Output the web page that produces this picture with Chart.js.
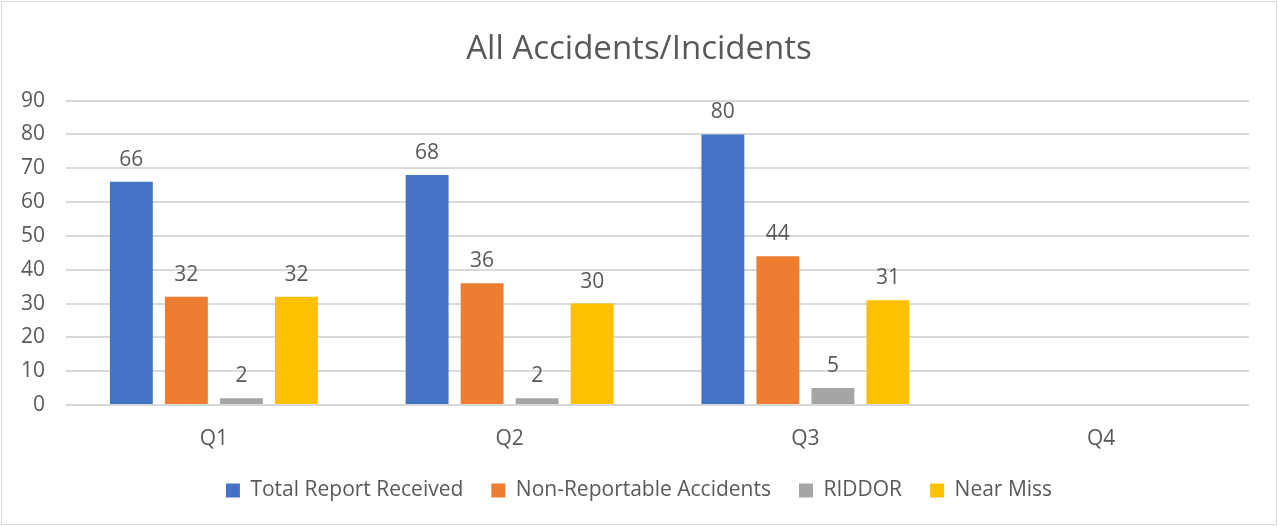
<!DOCTYPE html>
<html>
<head>
<meta charset="utf-8">
<script src="https://cdn.jsdelivr.net/npm/chart.js@4"></script>
<style>
  html, body { margin: 0; padding: 0; background: #fff; }
  #wrap { position: absolute; left: 1px; top: 1px; width: 1274px; height: 522px; border: 1px solid #d9d9d9; }
</style>
</head>
<body>
<div id="wrap"><canvas id="myChart" width="1274" height="522"></canvas></div>
<script>
const quarters = ['Q1', 'Q2', 'Q3', 'Q4'];
const totalReports = [66, 68, 80, null];
const nonReportable = [32, 36, 44, null];
const riddor = [2, 2, 5, null];
const nearMiss = [32, 30, 31, null];
const yTicks = [0, 10, 20, 30, 40, 50, 60, 70, 80, 90];

const textColor = '#595959';
const gridColor = '#d9d9d9';
const fontFamily = '"Open Sans", "Noto Sans", sans-serif';

// simple value labels above each bar
const barLabels = {
    id: 'barLabels',
    afterDatasetsDraw(chart) {
        const c = chart.ctx;
        c.save();
        c.font = '21px ' + fontFamily;
        c.fillStyle = textColor;
        c.textAlign = 'center';
        c.textBaseline = 'middle';
        chart.data.datasets.forEach((ds, i) => {
            chart.getDatasetMeta(i).data.forEach((bar, j) => {
                if (ds.data[j] == null) return;
                c.fillText(String(ds.data[j]), bar.x, bar.y - 22);
            });
        });
        c.restore();
    }
};

const ctx = document.getElementById('myChart').getContext('2d');

const myChart = new Chart(ctx, {
    type: 'bar',
    data: {
        labels: quarters,
        datasets: [
            { label: 'Total Report Received', data: totalReports, backgroundColor: '#4472C4' },
            { label: 'Non-Reportable Accidents', data: nonReportable, backgroundColor: '#ED7D31' },
            { label: 'RIDDOR', data: riddor, backgroundColor: '#A5A5A5' },
            { label: 'Near Miss', data: nearMiss, backgroundColor: '#FFC000' }
        ]
    },
    options: {
        responsive: false,
        animation: false,
        categoryPercentage: 0.744,
        barPercentage: 0.78,
        layout: { padding: { left: 0, right: 0, top: 0, bottom: 13 } },
        plugins: {
            title: {
                display: true,
                text: 'All Accidents/Incidents',
                color: textColor,
                font: { family: fontFamily, size: 33, weight: 'normal' },
                padding: { top: 28, bottom: 31 }
            },
            legend: {
                position: 'bottom',
                labels: {
                    color: textColor,
                    font: { family: fontFamily, size: 21 },
                    boxWidth: 14,
                    boxHeight: 14,
                    padding: 28
                }
            },
            tooltip: { enabled: false }
        },
        scales: {
            x: {
                afterFit: (scale) => { scale.height = 47; },
                grid: { display: false, drawTicks: false },
                border: { display: false },
                ticks: { color: textColor, font: { family: fontFamily, size: 21 }, padding: 21 }
            },
            y: {
                min: 0,
                max: 90,
                afterFit: (scale) => { scale.width = 64; },
                afterBuildTicks: (scale) => { scale.ticks = yTicks.map(v => ({ value: v })); },
                grid: { color: gridColor, lineWidth: 2, drawTicks: false },
                border: { display: false },
                ticks: { color: textColor, font: { family: fontFamily, size: 21 }, padding: 21 }
            },
            // empty right axis, only keeps a margin right of the plot
            yRight: {
                position: 'right',
                min: 0,
                max: 90,
                afterFit: (scale) => { scale.width = 27; },
                grid: { display: false, drawTicks: false },
                border: { display: false },
                ticks: { display: false }
            }
        }
    },
    plugins: [barLabels]
});
</script>
</body>
</html>
